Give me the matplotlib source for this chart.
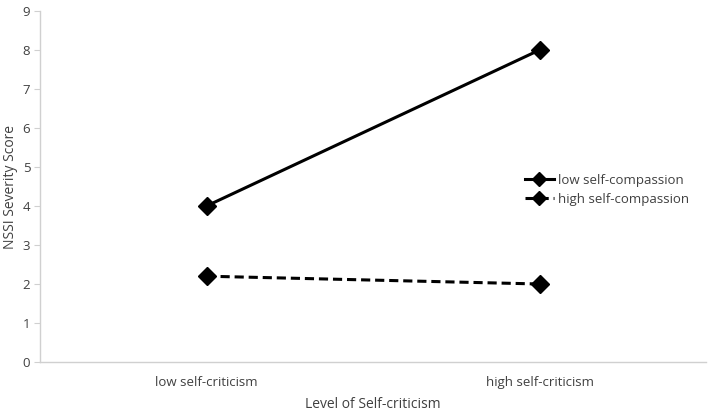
import matplotlib
matplotlib.use("Agg")
import matplotlib.pyplot as plt

categories = ["low self-criticism", "high self-criticism"]
low_compassion = [4.0, 8.0]
high_compassion = [2.2, 2.0]
series_labels = ["low self-compassion", "high self-compassion"]

plt.rcParams['font.family'] = ['Open Sans', 'DejaVu Sans']
txt = '#404040'

fig = plt.figure(figsize=(7.08, 4.11), dpi=100)
ax = fig.add_axes([40/708, 49/411, 666/708, 351/411])
x = list(range(len(categories)))
ax.plot(x, low_compassion, color='black', lw=2.2, marker='D', markersize=9,
        label=series_labels[0])
ax.plot(x, high_compassion, color='black', lw=2.2, ls=(0, (3, 1.6)), marker='D',
        markersize=9, label=series_labels[1])

ax.set_xlim(-0.5, 1.5)
ax.set_ylim(0, 9)
ax.set_yticks(range(0, 10))
ax.set_xticks(x)
ax.set_xticklabels(categories)
for s in ['top', 'right']:
    ax.spines[s].set_visible(False)
for s in ['left', 'bottom']:
    ax.spines[s].set_color('#d0d0d0')
    ax.spines[s].set_linewidth(1)
ax.tick_params(axis='y', colors='#d0d0d0', labelcolor=txt, labelsize=9.5, length=4, pad=3)
ax.tick_params(axis='x', length=0, labelcolor=txt, labelsize=9.5, pad=10)
ax.set_ylabel("NSSI Severity Score", color=txt, fontsize=10, labelpad=3)
ax.set_xlabel("Level of Self-criticism", color=txt, fontsize=10, labelpad=6)

leg = ax.legend(loc='center left', bbox_to_anchor=(0.71, 0.49), frameon=False,
                fontsize=9.5, handlelength=2.2, handletextpad=0.3, labelspacing=0.45,
                markerscale=0.75)
for t in leg.get_texts():
    t.set_color(txt)

fig.savefig("out.png", dpi=100)
